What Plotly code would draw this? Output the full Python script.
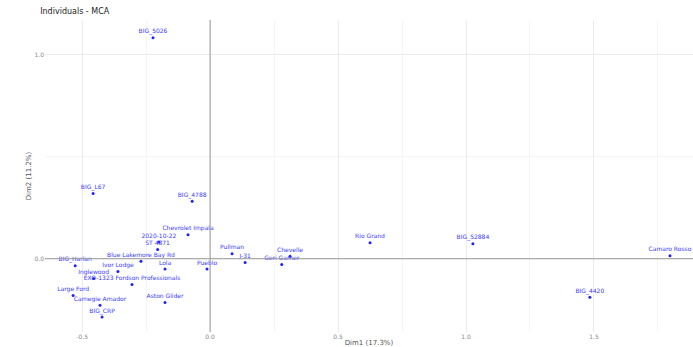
import plotly.graph_objects as go

# Individuals' coordinates on the first two MCA dimensions
labels = [
    "BIG_5026", "BIG_L67", "BIG_4788", "Chevrolet Impala", "2020-10-22",
    "ST 4871", "Pullman", "J-31", "Chevelle", "Rio Grand",
    "BIG_52884", "Camaro Rosso", "BIG_4420", "BIG_Harlan", "Blue Lakemore Bay Rd",
    "Inglewood", "EXO-1323 Fordson Professionals", "Large Ford", "Carnegie Amador",
    "Aston Glider", "BIG_CRP", "Lola", "Pueblo", "Ivor Lodge",
    "Geri Garner",
]
dim1 = [
    -0.223, -0.457, -0.070, -0.086, -0.200,
    -0.205, 0.086, 0.137, 0.3125, 0.625,
    1.027, 1.797, 1.484, -0.527, -0.270,
    -0.455, -0.305, -0.535, -0.430,
    -0.176, -0.422, -0.176, -0.012, -0.360,
    0.280,
]
dim2 = [
    1.083, 0.320, 0.282, 0.117, 0.082,
    0.045, 0.024, -0.019, 0.012, 0.078,
    0.073, 0.015, -0.189, -0.034, -0.012,
    -0.097, -0.126, -0.180, -0.228,
    -0.214, -0.286, -0.050, -0.050, -0.062,
    -0.028,
]

x_ticks = [-0.5, 0.0, 0.5, 1.0, 1.5]
y_ticks = [0.0, 1.0]

fig = go.Figure()
fig.add_trace(go.Scatter(
    x=dim1, y=dim2, mode="markers+text",
    text=labels, textposition="top center",
    textfont=dict(family="DejaVu Sans", size=6, color="#3a3aff"),
    marker=dict(color="#2020ff", size=3),
    cliponaxis=False, showlegend=False,
))

fig.add_hline(y=0, line=dict(color="#999999", width=1))
fig.add_vline(x=0, line=dict(color="#999999", width=1))

fig.update_layout(
    width=693, height=347,
    margin=dict(l=45, r=0, t=20, b=12),
    plot_bgcolor="white", paper_bgcolor="white",
    title=dict(text="Individuals - MCA", x=0.058, xanchor="left", y=0.975, yanchor="top",
               font=dict(family="DejaVu Sans", size=8, color="#222222")),
    font=dict(family="DejaVu Sans", size=6, color="#777777"),
)
fig.update_xaxes(
    range=[-0.645, 1.887], tickvals=x_ticks, ticktext=[f"{v:.1f}" for v in x_ticks],
    showgrid=True, gridcolor="#ebebeb", gridwidth=1,
    minor=dict(dtick=0.25, tick0=0, showgrid=True, gridcolor="#f5f5f5"),
    zeroline=False, ticks="", tickfont=dict(size=6, color="#888888"),
    title=dict(text="Dim1 (17.3%)", font=dict(size=7, color="#555555"), standoff=2),
)
fig.update_yaxes(
    range=[-0.359, 1.17], tickvals=y_ticks, ticktext=[f"{v:.1f}" for v in y_ticks],
    showgrid=True, gridcolor="#ebebeb", gridwidth=1,
    minor=dict(dtick=0.5, tick0=0, showgrid=True, gridcolor="#f5f5f5"),
    zeroline=False, ticks="", tickfont=dict(size=6, color="#888888"),
    title=dict(text="Dim2 (11.2%)", font=dict(size=7, color="#555555"), standoff=2),
)

fig.write_html("out.html")
